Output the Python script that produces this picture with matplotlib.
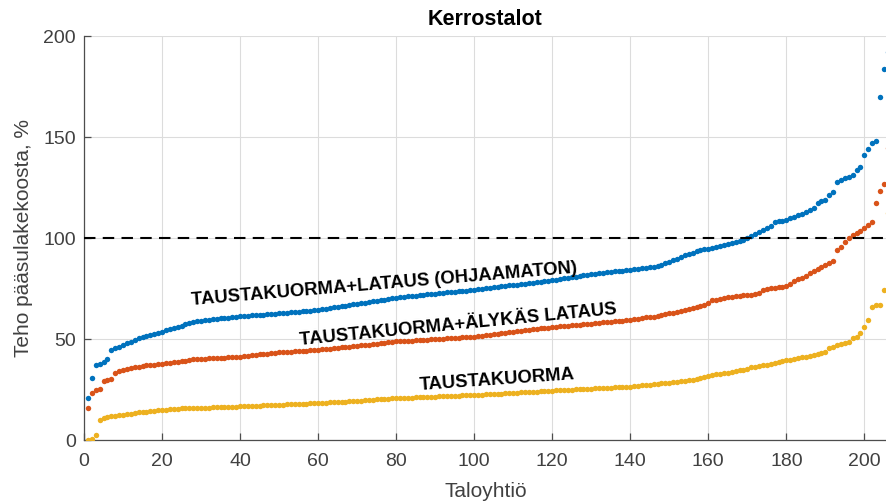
import numpy as np
import matplotlib
matplotlib.use("Agg")
import matplotlib.pyplot as plt

plt.rcParams['font.family'] = ['Liberation Sans', 'DejaVu Sans']

# Peak power relative to main fuse size, sorted per housing company (1..206)
total_uncontrolled = [
    21.0, 31.0, 37.2, 38.0, 39.0, 40.4, 44.6, 45.6, 46.4, 47.4,
    48.1, 48.7, 49.8, 50.5, 51.2, 51.8, 52.3, 52.8, 53.3, 53.8,
    54.4, 55.0, 55.6, 56.2, 56.8, 57.4, 58.0, 58.6, 58.9, 59.2,
    59.5, 59.7, 59.9, 60.1, 60.3, 60.5, 60.7, 60.9, 61.1, 61.3,
    61.5, 61.6, 61.8, 61.9, 62.1, 62.2, 62.4, 62.5, 62.7, 62.8,
    63.0, 63.1, 63.3, 63.4, 63.6, 63.8, 64.0, 64.2, 64.4, 64.6,
    64.9, 65.2, 65.5, 65.8, 66.1, 66.4, 66.7, 67.0, 67.3, 67.6,
    67.9, 68.2, 68.5, 68.8, 69.1, 69.4, 69.7, 70.0, 70.3, 70.6,
    70.8, 71.0, 71.2, 71.4, 71.6, 71.8, 72.0, 72.2, 72.4, 72.6,
    72.8, 73.0, 73.2, 73.4, 73.6, 73.8, 74.0, 74.1, 74.3, 74.4,
    74.7, 74.9, 75.2, 75.4, 75.7, 75.9, 76.2, 76.4, 76.7, 76.9,
    77.1, 77.3, 77.5, 77.8, 78.0, 78.3, 78.5, 78.8, 79.0, 79.2,
    79.5, 79.8, 80.1, 80.4, 80.7, 81.0, 81.3, 81.6, 81.9, 82.2,
    82.5, 82.8, 83.0, 83.2, 83.4, 83.6, 83.8, 84.0, 84.2, 84.4,
    84.6, 84.9, 85.2, 85.5, 85.7, 85.9, 86.4, 87.0, 87.7, 88.5,
    89.2, 90.0, 90.8, 91.5, 92.2, 92.9, 93.5, 94.0, 94.5, 94.8,
    95.3, 95.8, 96.3, 96.8, 97.3, 97.8, 98.2, 98.8, 99.3, 100.0,
    101.0, 102.0, 103.0, 104.0, 105.0, 106.0, 108.0, 108.4, 108.7, 109.0,
    110.0, 110.5, 111.5, 112.0, 113.0, 114.0, 115.0, 117.5, 118.5, 119.0,
    121.5, 123.0, 128.0, 129.0, 129.7, 130.5, 131.5, 134.0, 135.5, 141.0,
    144.0, 147.0, 148.0, 170.0, 184.0, 192.0,
]

total_smart = [
    16.0, 23.5, 24.8, 25.5, 29.3, 30.0, 30.5, 33.5, 34.3, 34.8,
    35.2, 35.6, 36.1, 36.5, 36.8, 37.1, 37.3, 37.5, 37.7, 37.9,
    38.1, 38.4, 38.7, 38.9, 39.2, 39.5, 39.8, 40.1, 40.2, 40.3,
    40.4, 40.5, 40.6, 40.7, 40.8, 40.9, 41.0, 41.1, 41.2, 41.4,
    41.6, 41.9, 42.1, 42.3, 42.5, 42.7, 42.9, 43.1, 43.3, 43.5,
    43.6, 43.8, 43.9, 44.0, 44.1, 44.3, 44.4, 44.5, 44.6, 44.8,
    45.0, 45.2, 45.4, 45.6, 45.8, 46.0, 46.2, 46.4, 46.6, 46.8,
    47.0, 47.2, 47.4, 47.6, 47.9, 48.1, 48.3, 48.5, 48.8, 49.0,
    49.1, 49.2, 49.3, 49.4, 49.5, 49.7, 49.8, 49.9, 50.0, 50.1,
    50.2, 50.3, 50.4, 50.5, 50.6, 50.8, 50.9, 51.0, 51.1, 51.3,
    51.5, 51.8, 52.0, 52.3, 52.5, 52.8, 53.0, 53.3, 53.5, 53.8,
    54.0, 54.3, 54.5, 54.8, 55.0, 55.2, 55.4, 55.6, 55.8, 56.0,
    56.2, 56.4, 56.5, 56.7, 56.9, 57.1, 57.3, 57.5, 57.6, 57.8,
    58.0, 58.2, 58.4, 58.5, 58.7, 58.9, 59.1, 59.2, 59.4, 59.6,
    59.9, 60.2, 60.5, 60.8, 61.0, 61.2, 61.6, 62.0, 62.4, 62.8,
    63.2, 63.7, 64.2, 64.7, 65.2, 65.6, 66.1, 66.5, 67.2, 68.2,
    69.3, 69.7, 70.0, 70.4, 70.7, 71.0, 71.2, 71.4, 71.7, 71.9,
    72.1, 72.4, 72.8, 74.3, 75.0, 75.3, 75.6, 75.8, 76.0, 76.5,
    77.2, 78.8, 79.8, 80.5, 81.2, 82.8, 83.8, 84.8, 85.7, 86.8,
    87.8, 88.6, 94.3, 95.8, 98.3, 100.0, 101.5, 102.5, 103.4, 105.0,
    106.5, 108.2, 117.3, 123.4, 127.0, 144.5,
]

base_load = [
    0.2, 0.5, 2.5, 10.2, 10.8, 11.4, 11.8, 12.0, 12.3, 12.5,
    12.8, 13.2, 13.5, 13.8, 14.0, 14.2, 14.4, 14.6, 14.8, 15.0,
    15.2, 15.4, 15.6, 15.7, 15.8, 15.9, 16.0, 16.0, 16.1, 16.1,
    16.2, 16.2, 16.3, 16.4, 16.4, 16.5, 16.5, 16.6, 16.7, 16.8,
    16.9, 17.0, 17.1, 17.2, 17.2, 17.3, 17.4, 17.5, 17.6, 17.6,
    17.7, 17.8, 17.9, 18.0, 18.0, 18.1, 18.2, 18.3, 18.3, 18.4,
    18.5, 18.6, 18.8, 18.9, 19.0, 19.1, 19.2, 19.3, 19.5, 19.6,
    19.7, 19.8, 19.9, 20.1, 20.2, 20.3, 20.4, 20.5, 20.7, 20.8,
    20.9, 21.0, 21.0, 21.1, 21.2, 21.3, 21.4, 21.4, 21.5, 21.6,
    21.7, 21.8, 21.8, 21.9, 22.0, 22.1, 22.2, 22.2, 22.3, 22.4,
    22.5, 22.6, 22.7, 22.8, 22.9, 23.0, 23.1, 23.2, 23.3, 23.5,
    23.6, 23.7, 23.8, 23.9, 24.0, 24.1, 24.2, 24.3, 24.5, 24.6,
    24.7, 24.8, 24.9, 25.0, 25.1, 25.2, 25.3, 25.4, 25.5, 25.6,
    25.7, 25.8, 25.9, 26.0, 26.1, 26.2, 26.3, 26.4, 26.5, 26.6,
    26.8, 27.0, 27.2, 27.4, 27.6, 27.8, 28.0, 28.2, 28.4, 28.6,
    28.8, 29.0, 29.2, 29.4, 29.7, 30.0, 30.4, 30.8, 31.3, 31.8,
    32.3, 32.6, 32.9, 33.2, 33.5, 33.8, 34.2, 34.6, 35.0, 35.5,
    36.2, 36.5, 36.8, 37.1, 37.4, 37.9, 38.4, 38.9, 39.3, 39.7,
    40.0, 40.3, 40.6, 41.0, 41.4, 41.9, 42.4, 42.9, 43.4, 43.9,
    45.5, 46.3, 47.0, 47.7, 48.3, 48.8, 50.5, 51.3, 53.0, 56.2,
    59.6, 66.1, 67.0, 67.0, 74.4, 112.4,
]

x_ticks = [0, 20, 40, 60, 80, 100, 120, 140, 160, 180, 200]
y_ticks = [0, 50, 100, 150, 200]
fuse_limit = 100

series_labels = [
    ("TAUSTAKUORMA+LATAUS (OHJAAMATON)", 77.0, 77.0, 4.8),
    ("TAUSTAKUORMA+ÄLYKÄS LATAUS", 95.8, 57.3, 5.6),
    ("TAUSTAKUORMA", 106.0, 29.8, 4.0),
]

colors = ["#0072BD", "#D95319", "#EDB120"]

fig = plt.figure(figsize=(8.87, 5.03), dpi=100)
ax = fig.add_axes([84 / 887, 1 - 440.3 / 503, 1 - 84 / 887, (440.3 - 36.3) / 503])

for values, c in zip([total_uncontrolled, total_smart, base_load], colors):
    idx = np.arange(1, len(values) + 1)
    ax.plot(idx, values, 'o', ms=3.9, mfc=c, mec='none', zorder=3)

ax.axhline(fuse_limit, color='black', lw=1.5, dashes=(5.5, 3.5), zorder=4)

for text, tx, ty, rot in series_labels:
    ax.text(tx, ty, text, fontsize=13.3, fontweight='bold', color='black',
            rotation=rot, rotation_mode='anchor', ha='center', va='center',
            zorder=5)

ax.set_xlim(0, 205.8)
ax.set_ylim(0, 200)
ax.set_xticks(x_ticks)
ax.set_yticks(y_ticks)
ax.grid(True, color='#dcdcdc', lw=0.8, zorder=0)
ax.set_axisbelow(True)

for side in ('top', 'right'):
    ax.spines[side].set_visible(False)
for side in ('left', 'bottom'):
    ax.spines[side].set_color('#4d4d4d')
    ax.spines[side].set_linewidth(0.9)

ax.tick_params(axis='both', direction='in', length=5, width=0.9,
               color='#4d4d4d', labelcolor='#404040', labelsize=14)
ax.tick_params(axis='x', pad=9)
ax.tick_params(axis='y', pad=6)

ax.set_title("Kerrostalot", fontsize=15.5, fontweight='bold', color='black', pad=8)
ax.set_xlabel("Taloyhtiö", fontsize=15, color='#404040')
ax.set_ylabel("Teho pääsulakekoosta, %", fontsize=15, color='#404040')
ax.xaxis.set_label_coords(0.5, -0.102)
ax.yaxis.set_label_coords(-0.064, 0.5)

fig.savefig("out.png", dpi=100)
